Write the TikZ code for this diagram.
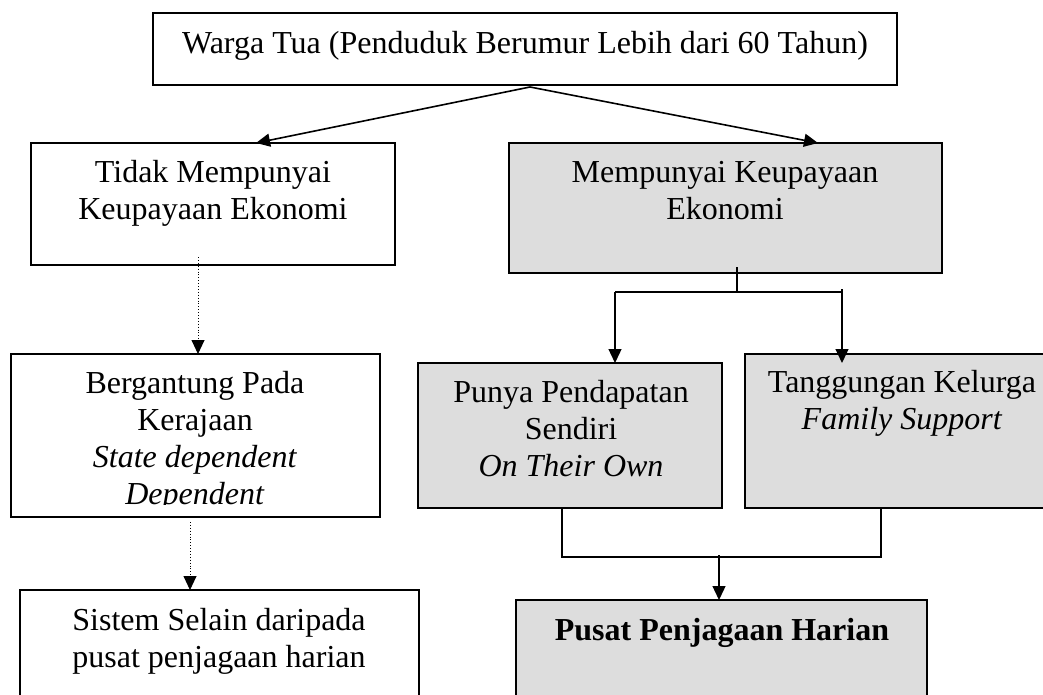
\documentclass[tikz,border=0pt]{standalone}
\usepackage{fontspec}
\setmainfont{Liberation Serif}
\usetikzlibrary{arrows.meta}
\definecolor{boxgray}{RGB}{221,221,221}
\begin{document}
\begin{tikzpicture}[x=1pt,y=-1pt,
  box/.style={draw=black, line width=1.6pt, inner sep=0pt, outer sep=0pt, anchor=north west},
  graybox/.style={box, fill=boxgray},
  txt/.style={font=\fontsize{32}{37}\selectfont, align=center, inner sep=0pt, anchor=north},
  conn/.style={line width=1.3pt},
  arr/.style={conn, -{Triangle[width=13pt,length=14pt]}},
  dotarr/.style={line width=0.9pt, dotted, -{Triangle[width=13pt,length=14pt]}},
]
\useasboundingbox (0,0) rectangle (1043,695);
% boxes
\node[box, minimum width=744pt, minimum height=72pt] (top) at (153,13) {};
\node[box, minimum width=364pt, minimum height=122pt] (nl) at (31,143) {};
\node[graybox, minimum width=433pt, minimum height=130pt] (ng) at (509,143) {};
\node[box, minimum width=369pt, minimum height=163pt] (nd) at (11,354) {};
\node[graybox, minimum width=304pt, minimum height=145pt] (no) at (418,363) {};
\node[graybox, minimum width=330pt, minimum height=154pt] (nf) at (745,354) {};
\node[box, minimum width=399pt, minimum height=130pt] (ns) at (20,590) {};
\node[graybox, minimum width=411pt, minimum height=120pt] (np) at (516,600) {};
% texts
\node[txt] (t0) at (525,27) {\rule{0pt}{26pt}Warga Tua (Penduduk Berumur Lebih dari 60 Tahun)};
\node[txt] (t1) at (213,156) {\rule{0pt}{26pt}Tidak Mempunyai\\Keupayaan Ekonomi};
\node[txt] (t2) at (725,156) {\rule{0pt}{26pt}Mempunyai Keupayaan\\Ekonomi};
\begin{scope}
\clip (11,354) rectangle (380,504.5);
\node[txt] (t3) at (195,367) {\rule{0pt}{26pt}Bergantung Pada\\Kerajaan\\\textit{State dependent}\\\textit{Dependent}};
\end{scope}
\node[txt] (t4) at (571,376) {\rule{0pt}{26pt}Punya Pendapatan\\Sendiri\\\textit{On Their Own}};
\node[txt] (t5) at (902,366) {\rule{0pt}{26pt}Tanggungan Kelurga\\\textit{Family Support}};
\node[txt] (t6) at (219,604) {\rule{0pt}{26pt}Sistem Selain daripada\\pusat penjagaan harian};
\node[txt] (t7) at (722,614) {\rule{0pt}{26pt}\textbf{Pusat Penjagaan Harian}};
% connectors
\coordinate (apex) at (530,87);
\coordinate (tipL) at (256,143);
\coordinate (tipR) at (818,143);
\draw[arr, line width=1.6pt] (apex) -- (tipL);
\draw[arr, line width=1.6pt] (apex) -- (tipR);
\coordinate (d1s) at (198,257);
\draw[dotarr] (d1s) -- (d1s |- nd.north);
\coordinate (d2s) at (190,522);
\draw[dotarr] (d2s) -- (d2s |- ns.north);
\coordinate (sp) at (737,292);
\draw[conn] ([yshift=6pt]sp |- ng.south) -- (sp);
\coordinate (bl) at (615,292);
\coordinate (br) at (842,292);
\draw[conn] (bl) -- (br);
\draw[arr] (bl) -- (bl |- no.north);
\draw[arr] ([yshift=3pt]br) -- ([yshift=-9pt]br |- nf.north);
\coordinate (ml) at (562,557);
\coordinate (mr) at (881,557);
\draw[conn] (ml |- no.south) -- (ml) -- (mr) -- (mr |- nf.south);
\coordinate (mc) at (719,555);
\draw[arr] (mc) -- (mc |- np.north);
\end{tikzpicture}
\end{document}
